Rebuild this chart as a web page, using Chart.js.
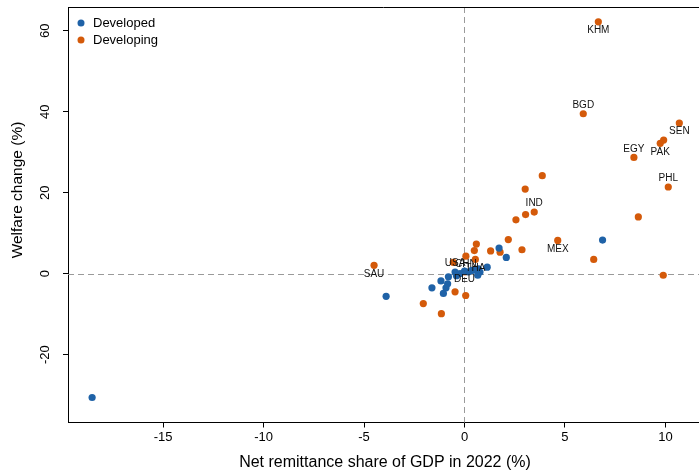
<!DOCTYPE html>
<html><head><meta charset="utf-8">
<script src="https://cdn.jsdelivr.net/npm/chart.js@4"></script>
<style>html,body{margin:0;padding:0;background:#fff}#wrap{width:699px;height:471px;position:relative}</style>
</head><body><div id="wrap"><canvas id="c"></canvas></div>
<script>
const seriesNames = ['Developed', 'Developing'];
const developedX = [-18.53, -3.90, 6.87, 2.08, 1.72, 1.13, 0.77, 0.69, 0.66, 0.36, 0.19, 0.00, -0.22, -0.47, -0.80, -1.17, -0.84, -0.92, -1.62, -1.05, -0.40, 0.50];
const developedY = [-30.6, -5.6, 8.3, 4.0, 6.3, 1.6, 0.4, 1.2, -0.4, 0.8, 0.4, 0.6, 0.0, 0.4, -0.8, -1.8, -2.5, -3.5, -3.5, -4.9, -0.5, 0.9];
const developedCodes = ['', '', '', '', '', '', '', '', '', '', '', 'DEU', '', 'USA', '', '', '', '', '', '', '', ''];
const developingX = [6.66, 5.91, 10.69, 9.91, 9.74, 8.43, 10.14, 3.87, 3.02, 3.47, 3.04, 2.56, 8.65, 2.18, 4.64, 2.86, 6.43, 9.89, 0.59, 0.49, 1.30, 1.77, 0.07, 0.54, 0.02, -0.56, -4.50, -0.47, 0.06, -2.05, -1.15];
const developingY = [62.2, 39.5, 37.2, 33.0, 32.2, 28.7, 21.4, 24.2, 20.9, 15.2, 14.6, 13.3, 14.0, 8.4, 8.2, 5.9, 3.5, -0.4, 7.3, 5.7, 5.6, 5.3, 4.3, 3.5, 0.4, 2.8, 2.05, -4.5, -5.4, -7.4, -9.9];
const developingCodes = ['KHM', 'BGD', 'SEN', '', 'PAK', 'EGY', 'PHL', '', '', 'IND', '', '', '', '', 'MEX', '', '', '', '', '', '', '', 'CHN', 'THA', '', '', 'SAU', '', '', '', ''];
const xTicks = [-15, -10, -5, 0, 5, 10];
const yTicks = [-20, 0, 20, 40, 60];
const xTitle = 'Net remittance share of GDP in 2022 (%)';
const yTitle = 'Welfare change (%)';

const FONT = '"Liberation Sans", Arial, Helvetica, sans-serif';
const COLORS = ['#1f62a7', '#d45a0a'];
const labelAbove = {BGD: true, EGY: true, PHL: true, IND: true, USA: true};

function pts(xs, ys, codes) { return xs.map((x, i) => ({x: x, y: ys[i], code: codes[i]})); }

const overlay = {
  id: 'overlay',
  beforeDatasetsDraw(chart) {
    const {ctx, chartArea: a, scales: {x, y}} = chart;
    ctx.save();
    ctx.strokeStyle = '#9a9a9a';
    ctx.lineWidth = 1;
    ctx.setLineDash([6, 4]);
    const x0 = Math.round(x.getPixelForValue(0)) + 0.5;
    const y0 = Math.round(y.getPixelForValue(0)) + 0.5;
    ctx.beginPath(); ctx.moveTo(x0, a.top); ctx.lineTo(x0, a.bottom); ctx.stroke();
    ctx.beginPath(); ctx.moveTo(a.left, y0); ctx.lineTo(chart.width, y0); ctx.stroke();
    ctx.restore();
  },
  afterDatasetsDraw(chart) {
    const {ctx, scales: {x, y}} = chart;
    ctx.save();
    ctx.fillStyle = '#111';
    ctx.font = '10px ' + FONT;
    ctx.textAlign = 'center';
    ctx.textBaseline = 'middle';
    chart.data.datasets.forEach(ds => {
      ds.data.forEach(p => {
        if (!p.code) return;
        const px = x.getPixelForValue(p.x);
        const py = y.getPixelForValue(p.y) + (labelAbove[p.code] ? -8.5 : 8.5);
        ctx.fillText(p.code, px, py);
      });
    });
    ctx.restore();
  },
  afterDraw(chart) {
    const {ctx, chartArea: a, scales: {x, y}} = chart;
    ctx.save();
    ctx.strokeStyle = '#000'; ctx.lineWidth = 1;
    ctx.beginPath(); ctx.moveTo(a.left, a.top + 0.5); ctx.lineTo(chart.width, a.top + 0.5); ctx.stroke();
    ctx.beginPath(); ctx.moveTo(a.right - 2, a.bottom); ctx.lineTo(chart.width, a.bottom); ctx.stroke();
    ctx.fillStyle = '#000';
    ctx.font = '13px ' + FONT;
    ctx.textAlign = 'center';
    ctx.textBaseline = 'middle';
    y.ticks.forEach(t => {
      const py = y.getPixelForValue(t.value);
      ctx.save(); ctx.translate(45, py); ctx.rotate(-Math.PI / 2);
      ctx.fillText(String(t.value), 0, 0); ctx.restore();
    });
    ctx.font = '16px ' + FONT;
    ctx.fillText(xTitle, 385, 463);
    ctx.save(); ctx.translate(18, 190); ctx.rotate(-Math.PI / 2);
    ctx.font = '15.5px ' + FONT;
    ctx.fillText(yTitle, 0, 0); ctx.restore();
    ctx.font = '13px ' + FONT;
    ctx.textAlign = 'left';
    chart.data.datasets.forEach((ds, i) => {
      const ly = 23 + i * 17;
      ctx.fillStyle = ds.backgroundColor;
      ctx.beginPath(); ctx.arc(81, ly, 3.5, 0, Math.PI * 2); ctx.fill();
      ctx.fillStyle = '#000';
      ctx.fillText(ds.label, 93, ly);
    });
    ctx.restore();
  }
};

new Chart(document.getElementById('c'), {
  type: 'scatter',
  data: {
    datasets: [
      {label: seriesNames[0], data: pts(developedX, developedY, developedCodes), backgroundColor: COLORS[0], borderWidth: 0, pointRadius: 3.6},
      {label: seriesNames[1], data: pts(developingX, developingY, developingCodes), backgroundColor: COLORS[1], borderWidth: 0, pointRadius: 3.6}
    ]
  },
  options: {
    responsive: true, maintainAspectRatio: false, animation: false,
    layout: {padding: {top: 7, left: 0, right: 0, bottom: 0}},
    plugins: {legend: {display: false}, tooltip: {enabled: false}},
    scales: {
      x: {
        type: 'linear', position: 'bottom', min: -19.73, max: 11.47,
        afterBuildTicks: s => { s.ticks = xTicks.map(v => ({value: v})); },
        afterFit: s => { s.height = 48.5; },
        grid: {drawOnChartArea: false, drawTicks: true, tickLength: 5, color: '#000'},
        border: {display: true, color: '#000', width: 1},
        ticks: {font: {family: FONT, size: 13}, color: '#000', padding: 2, maxRotation: 0, minRotation: 0, autoSkip: false, callback: v => String(v)}
      },
      y: {
        type: 'linear', position: 'left', min: -36.78, max: 65.87,
        afterBuildTicks: s => { s.ticks = yTicks.map(v => ({value: v})); },
        afterFit: s => { s.width = 68; },
        grid: {drawOnChartArea: false, drawTicks: true, tickLength: 5, color: '#000'},
        border: {display: true, color: '#000', width: 1},
        ticks: {display: false}
      }
    }
  },
  plugins: [overlay]
});
</script>
</body></html>
